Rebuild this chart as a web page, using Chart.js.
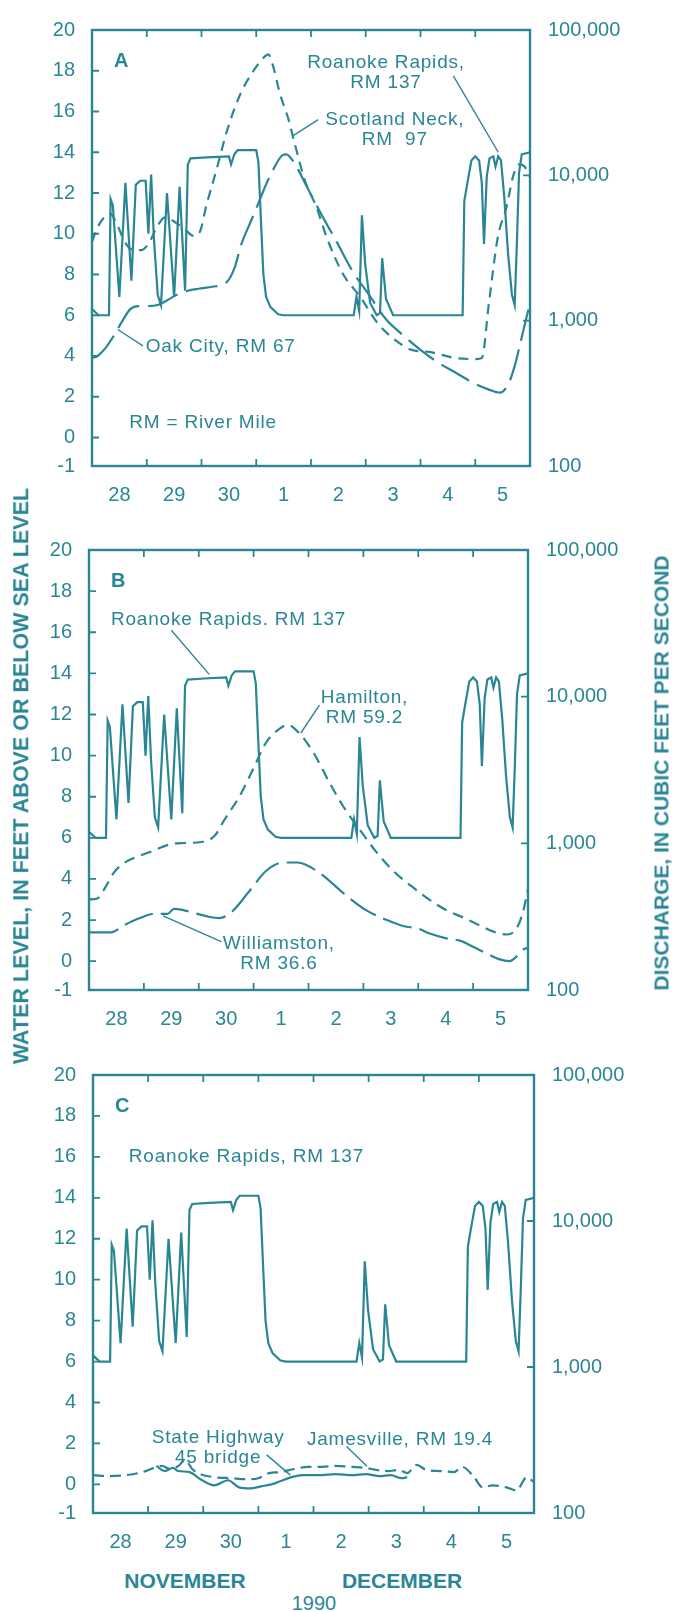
<!DOCTYPE html>
<html>
<head>
<meta charset="utf-8">
<title>Roanoke River water levels, Nov 28 - Dec 5, 1990</title>
<script src="https://cdn.jsdelivr.net/npm/chart.js@4.4.1/dist/chart.umd.min.js"></script>
<style>
  body { margin: 0; background: #fff; }
  #fig { position: relative; width: 673px; height: 1612px; overflow: hidden;
         font-family: "Liberation Sans", Arial, Helvetica, sans-serif; color: #2a8695; }
  .pane { position: absolute; left: 0; width: 673px; }
  .txt { position: absolute; white-space: nowrap; line-height: 1; transform: translate(-50%, -50%); }
  .bold { font-weight: bold; font-size: 21px; }
  .vert { transform: translate(-50%, -50%) rotate(-90deg); }
</style>
</head>
<body>
<div id="fig">
  <div class="pane" style="top:0;height:520px"><canvas id="panelA" width="673" height="520"></canvas></div>
  <div class="pane" style="top:520px;height:525px"><canvas id="panelB" width="673" height="525"></canvas></div>
  <div class="pane" style="top:1045px;height:520px"><canvas id="panelC" width="673" height="520"></canvas></div>
  <div class="txt bold vert" style="left:22px;top:776px;font-size:21.5px">WATER LEVEL, IN FEET ABOVE OR BELOW SEA LEVEL</div>
  <div class="txt bold vert" style="left:661px;top:773px">DISCHARGE, IN CUBIC FEET PER SECOND</div>
  <div class="txt bold" style="left:185px;top:1580px">NOVEMBER</div>
  <div class="txt bold" style="left:402px;top:1580px">DECEMBER</div>
  <div class="txt" style="left:314px;top:1603px;font-size:20px">1990</div>
</div>
<script>
const TEAL = '#2a8695';
const FONT = '"Liberation Sans", Arial, Helvetica, sans-serif';

// x is days since 0h Nov 28 1990; day labels sit at mid-day
const DAY_LABELS = ['28', '29', '30', '1', '2', '3', '4', '5'];
const LEVEL_TICKS = [20, 18, 16, 14, 12, 10, 8, 6, 4, 2, 0];
const LEVEL_MIN = -1.4;   // frame bottom, printed as "-1" on the original
const LEVEL_MAX = 20;
const FLOW_TICKS = [100, 1000, 10000, 100000];

// [day, water level ft]
const ROANOKE = [
  [0, 6.3], [0.12, 6.0], [0.31, 6.0], [0.34, 11.7], [0.38, 11.4], [0.5, 6.9], [0.61, 12.5],
  [0.72, 7.7], [0.8, 12.4], [0.88, 12.6], [0.98, 12.6], [1.03, 10.0], [1.08, 12.9], [1.13, 9.8],
  [1.2, 7.0], [1.26, 6.5], [1.37, 12.0], [1.5, 6.9], [1.6, 12.3], [1.7, 7.2], [1.75, 13.4],
  [1.8, 13.7], [2.1, 13.75], [2.5, 13.8], [2.54, 13.4], [2.6, 13.9], [2.66, 14.1], [3.0, 14.1],
  [3.04, 13.5], [3.08, 11.0], [3.13, 8.0], [3.18, 6.9], [3.26, 6.4], [3.4, 6.05], [3.5, 6.0],
  [4.78, 6.0], [4.83, 6.9], [4.88, 6.2], [4.93, 10.9], [4.99, 8.5], [5.08, 6.6], [5.2, 6.0],
  [5.26, 6.1], [5.3, 8.8], [5.37, 6.8], [5.5, 6.0], [6.77, 6.0], [6.8, 11.6], [6.85, 12.4],
  [6.93, 13.6], [7.0, 13.8], [7.07, 13.6], [7.12, 12.5], [7.16, 9.5], [7.21, 12.8], [7.26, 13.7],
  [7.33, 13.8], [7.37, 13.3], [7.42, 13.8], [7.47, 13.6], [7.53, 11.8], [7.6, 9.0], [7.67, 7.0],
  [7.72, 6.5], [7.76, 9.5], [7.8, 13.0], [7.85, 13.9], [8.0, 14.0]
];
const SCOTLAND_NECK = [
  [0, 9.6], [0.1, 10.3], [0.22, 10.8], [0.33, 11.0], [0.45, 10.5], [0.6, 9.6], [0.75, 9.2],
  [0.9, 9.2], [1.05, 9.6], [1.2, 10.4], [1.33, 10.8], [1.5, 10.6], [1.7, 10.2], [1.85, 9.9],
  [1.97, 10.1], [2.09, 11.4], [2.28, 13.2], [2.46, 15.0], [2.7, 16.8], [2.95, 18.0], [3.12, 18.6],
  [3.22, 18.8], [3.3, 18.3], [3.43, 16.9], [3.59, 15.6], [3.71, 14.35], [3.89, 12.6], [4.1, 11.3],
  [4.29, 9.8], [4.59, 8.0], [4.9, 6.9], [5.22, 5.6], [5.53, 4.8], [5.84, 4.3], [6.16, 4.2],
  [6.63, 3.9], [7.02, 3.85], [7.12, 3.9], [7.25, 6.6], [7.41, 9.8], [7.57, 11.3], [7.7, 12.9],
  [7.8, 13.4], [7.9, 13.3], [8.0, 12.8]
];
const OAK_CITY = [
  [0, 3.9], [0.1, 4.0], [0.25, 4.4], [0.4, 5.0], [0.55, 5.7], [0.7, 6.3], [0.85, 6.45],
  [1.0, 6.45], [1.2, 6.5], [1.35, 6.7], [1.55, 7.0], [1.75, 7.2], [1.95, 7.3], [2.2, 7.4],
  [2.45, 7.6], [2.6, 8.3], [2.73, 9.5], [2.9, 10.6], [3.07, 11.7], [3.16, 12.3], [3.3, 13.1],
  [3.48, 13.86], [3.55, 13.9], [3.68, 13.54], [3.92, 12.33], [4.22, 10.8], [4.47, 9.6],
  [4.75, 8.2], [5.06, 7.0], [5.37, 5.8], [5.69, 5.0], [6.0, 4.3], [6.31, 3.7], [6.63, 3.2],
  [7.02, 2.6], [7.25, 2.35], [7.45, 2.2], [7.6, 2.6], [7.72, 3.5], [7.82, 4.6], [8.0, 6.6]
];
const HAMILTON = [
  [0, 3.0], [0.15, 3.05], [0.3, 3.6], [0.45, 4.3], [0.6, 4.7], [0.8, 5.0], [1.1, 5.3],
  [1.5, 5.7], [1.74, 5.75], [2.05, 5.8], [2.29, 6.1], [2.45, 6.8], [2.76, 8.1], [3.0, 9.4],
  [3.23, 10.65], [3.47, 11.3], [3.62, 11.5], [3.86, 11.0], [4.1, 10.1], [4.4, 8.6], [4.64, 7.5],
  [4.96, 6.3], [5.27, 5.2], [5.58, 4.3], [5.9, 3.6], [6.2, 3.0], [6.5, 2.5], [6.84, 2.1],
  [7.15, 1.7], [7.47, 1.35], [7.62, 1.3], [7.78, 1.55], [7.9, 2.3], [8.0, 3.5]
];
const WILLIAMSTON = [
  [0, 1.4], [0.4, 1.4], [0.64, 1.75], [0.88, 2.05], [1.19, 2.3], [1.43, 2.3], [1.55, 2.55],
  [1.7, 2.5], [1.98, 2.3], [2.2, 2.15], [2.37, 2.1], [2.6, 2.4], [2.92, 3.4], [3.23, 4.4],
  [3.55, 4.8], [3.8, 4.8], [3.94, 4.7], [4.25, 4.2], [4.64, 3.3], [5.04, 2.5], [5.43, 2.0],
  [5.74, 1.7], [5.98, 1.6], [6.21, 1.35], [6.53, 1.1], [6.76, 1.0], [7.0, 0.7], [7.23, 0.4],
  [7.47, 0.1], [7.66, 0.0], [7.78, 0.2], [7.9, 0.55], [8.0, 0.65]
];
const JAMESVILLE = [
  [0, 0.45], [0.3, 0.4], [0.6, 0.45], [0.9, 0.6], [1.1, 0.8], [1.25, 0.9], [1.4, 0.75],
  [1.55, 0.9], [1.67, 1.2], [1.8, 0.75], [1.95, 0.5], [2.2, 0.35], [2.5, 0.3], [2.8, 0.25],
  [3.0, 0.3], [3.2, 0.55], [3.4, 0.6], [3.65, 0.75], [3.9, 0.85], [4.15, 0.85], [4.4, 0.9],
  [4.7, 0.85], [4.95, 0.8], [5.15, 0.7], [5.35, 0.65], [5.55, 0.7], [5.7, 0.55], [5.87, 0.95],
  [6.05, 0.7], [6.3, 0.65], [6.55, 0.6], [6.7, 0.85], [6.9, 0.4], [7.07, -0.15], [7.25, -0.05],
  [7.5, -0.15], [7.68, -0.3], [7.87, 0.35], [8.0, 0.1]
];
const SH45_BRIDGE = [
  [1.15, 0.9], [1.3, 0.65], [1.45, 0.8], [1.55, 0.65], [1.75, 0.6], [1.95, 0.25], [2.2, -0.05],
  [2.45, 0.2], [2.65, -0.15], [2.85, -0.2], [3.05, -0.1], [3.3, 0.05], [3.6, 0.35], [3.8, 0.45],
  [4.1, 0.45], [4.4, 0.5], [4.7, 0.45], [4.95, 0.5], [5.2, 0.4], [5.4, 0.45], [5.6, 0.3], [5.7, 0.35]
];

// station labels, placed in day / feet units
const NOTES_A = [
  { lines: ['Roanoke Rapids,', 'RM 137'], day: 5.37, ft: 18.4, align: 'center', leader: [[6.6, 17.75], [7.42, 14.0]] },
  { lines: ['Scotland Neck,', 'RM  97'], day: 5.53, ft: 15.6, align: 'center', leader: [[4.13, 15.6], [3.67, 14.8]] },
  { lines: ['Oak City, RM 67'], day: 0.98, ft: 4.45, align: 'left', leader: [[0.93, 4.5], [0.47, 5.3]] },
  { lines: ['RM = River Mile'], day: 0.68, ft: 0.7, align: 'left' }
];
const NOTES_B = [
  { lines: ['Roanoke Rapids. RM 137'], day: 0.4, ft: 16.6, align: 'left', leader: [[1.5, 16.1], [2.19, 13.95]] },
  { lines: ['Hamilton,', 'RM 59.2'], day: 5.02, ft: 12.8, align: 'center', leader: [[4.2, 12.45], [3.86, 11.1]] },
  { lines: ['Williamston,', 'RM 36.6'], day: 3.46, ft: 0.85, align: 'center', leader: [[2.41, 0.95], [1.35, 2.2]] }
];
const NOTES_C = [
  { lines: ['Roanoke Rapids, RM 137'], day: 0.65, ft: 16.0, align: 'left' },
  { lines: ['State Highway', '45 bridge'], day: 2.27, ft: 2.3, align: 'center', leader: [[3.15, 1.44], [3.58, 0.45]] },
  { lines: ['Jamesville, RM 19.4'], day: 3.88, ft: 2.2, align: 'left', leader: [[4.6, 1.85], [4.97, 0.88]] }
];

const TICK = 7;
const NOTE_LEAD = 20;

// frame, inward ticks, panel letter and station labels
const framePlugin = {
  id: 'frame',
  afterDatasetsDraw(chart, args, opts) {
    const { ctx, chartArea: a, scales } = chart;
    const px = (d, f) => [scales.x.getPixelForValue(d), scales.y.getPixelForValue(f)];
    ctx.save();
    ctx.strokeStyle = TEAL;
    ctx.fillStyle = TEAL;
    ctx.lineWidth = 2.4;
    ctx.strokeRect(a.left, a.top, a.right - a.left, a.bottom - a.top);
    ctx.lineWidth = 1.8;
    ctx.beginPath();
    for (let d = 1; d < DAY_LABELS.length; d++) {
      const x = scales.x.getPixelForValue(d);
      ctx.moveTo(x, a.top); ctx.lineTo(x, a.top + TICK);
      ctx.moveTo(x, a.bottom); ctx.lineTo(x, a.bottom - TICK);
    }
    LEVEL_TICKS.filter(v => v < LEVEL_MAX).forEach(v => {
      const y = scales.y.getPixelForValue(v);
      ctx.moveTo(a.left, y); ctx.lineTo(a.left + TICK, y);
    });
    FLOW_TICKS.slice(1, -1).forEach(v => {
      const y = scales.y1.getPixelForValue(v);
      ctx.moveTo(a.right, y); ctx.lineTo(a.right - TICK, y);
    });
    ctx.stroke();

    ctx.textBaseline = 'middle';
    ctx.font = 'bold 20px ' + FONT;
    ctx.textAlign = 'left';
    const [lx, ly] = px(0.4, 18.45);
    ctx.fillText(opts.letter, lx, ly);

    ctx.font = '19px ' + FONT;
    ctx.letterSpacing = '0.8px';
    ctx.lineWidth = 1.4;
    for (const n of opts.notes) {
      const [x, y] = px(n.day, n.ft);
      ctx.textAlign = n.align;
      n.lines.forEach((t, i) => ctx.fillText(t, x, y + i * NOTE_LEAD));
      if (n.leader) {
        const [p, q] = n.leader.map(([d, f]) => px(d, f));
        ctx.beginPath(); ctx.moveTo(p[0], p[1]); ctx.lineTo(q[0], q[1]); ctx.stroke();
      }
    }
    ctx.restore();
  }
};

function series(points, dash, smooth) {
  return {
    data: points,
    borderColor: TEAL,
    borderWidth: 2.2,
    borderDash: dash,
    pointRadius: 0,
    tension: 0,
    cubicInterpolationMode: smooth ? 'monotone' : 'default',
    yAxisID: 'y'
  };
}

const tickFont = { family: FONT, size: 20 };

function panel(id, box, datasets, notes, letter) {
  return new Chart(document.getElementById(id), {
    type: 'line',
    data: { datasets },
    options: {
      responsive: false,
      animation: false,
      devicePixelRatio: 1,
      layout: { padding: { top: box.top, left: 0, right: 0, bottom: 0 } },
      plugins: {
        legend: { display: false },
        tooltip: { enabled: false },
        frame: { notes, letter }
      },
      scales: {
        x: {
          type: 'linear', position: 'bottom', min: 0, max: DAY_LABELS.length,
          afterFit: s => { s.height = box.h - box.bottom; },
          afterBuildTicks: s => { s.ticks = DAY_LABELS.map((_, i) => ({ value: i + 0.5 })); },
          ticks: { callback: (v, i) => DAY_LABELS[i], autoSkip: false, maxRotation: 0,
                   padding: 17, color: TEAL, font: tickFont },
          grid: { display: false, drawTicks: false },
          border: { display: false }
        },
        y: {
          type: 'linear', position: 'left', min: LEVEL_MIN, max: LEVEL_MAX,
          afterFit: s => { s.width = box.left; },
          afterBuildTicks: s => { s.ticks = LEVEL_TICKS.concat([LEVEL_MIN]).map(v => ({ value: v })); },
          ticks: { callback: v => (v === LEVEL_MIN ? '-1' : String(v)), autoSkip: false,
                   padding: 17, color: TEAL, font: tickFont },
          grid: { display: false, drawTicks: false },
          border: { display: false }
        },
        y1: {
          type: 'logarithmic', position: 'right', min: FLOW_TICKS[0], max: FLOW_TICKS[FLOW_TICKS.length - 1],
          afterFit: s => { s.width = 673 - box.right; },
          afterBuildTicks: s => { s.ticks = FLOW_TICKS.map(v => ({ value: v })); },
          ticks: { callback: v => v.toLocaleString('en-US'), autoSkip: false,
                   padding: 18, color: TEAL, font: tickFont },
          grid: { display: false, drawTicks: false },
          border: { display: false }
        }
      }
    },
    plugins: [framePlugin]
  });
}

panel('panelA', { top: 23, left: 92, right: 530, bottom: 466, h: 520 }, [
  series(ROANOKE, [], false),
  series(SCOTLAND_NECK, [10, 7], true),
  series(OAK_CITY, [32, 9], true)
], NOTES_A, 'A');

panel('panelB', { top: 26, left: 89, right: 528, bottom: 470, h: 525 }, [
  series(ROANOKE, [], false),
  series(HAMILTON, [11, 7], true),
  series(WILLIAMSTON, [30, 8], true)
], NOTES_B, 'B');

panel('panelC', { top: 23, left: 93, right: 534, bottom: 468, h: 520 }, [
  series(ROANOKE, [], false),
  series(JAMESVILLE, [11, 6], true),
  series(SH45_BRIDGE, [], true)
], NOTES_C, 'C');
</script>
</body>
</html>
